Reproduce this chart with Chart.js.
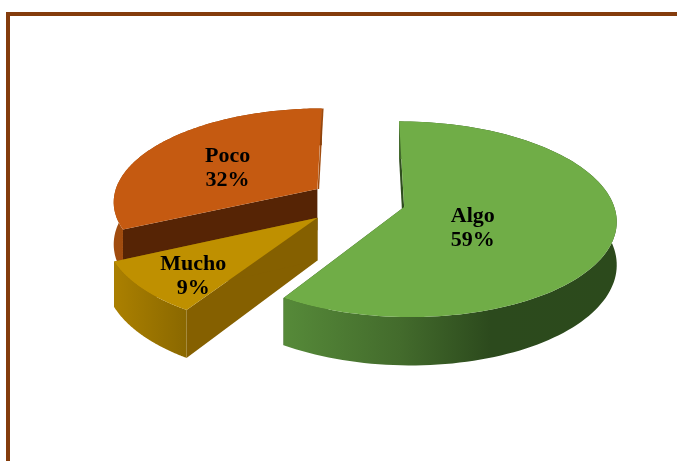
<!DOCTYPE html>
<html>
<head>
<meta charset="utf-8">
<script src="https://cdn.jsdelivr.net/npm/chart.js@4"></script>
<style>
  html, body { margin: 0; padding: 0; background: #fff; overflow: hidden; }
  #wrap { position: relative; width: 677px; height: 461px; }
  #frame { position: absolute; left: 6px; top: 12px; right: 0; bottom: 0; border-top: 4px solid #843C0C; border-left: 4px solid #843C0C; }
  canvas { position: absolute; left: 0; top: 0; }
</style>
</head>
<body>
<div id="wrap">
  <div id="frame"></div>
  <canvas id="chart" width="677" height="461"></canvas>
</div>
<script>
const categories = ['Algo', 'Mucho', 'Poco'];
const percents = [59, 9, 32];

const topColors = ['#70AD47', '#BF9000', '#C55A11'];
const cutColors = ['#2F4D1E', '#856000', '#562405'];
const wallStops = [
  [[0, '#568A39'], [0.35, '#436B2C'], [0.62, '#2C4A1D'], [1, '#2C4A1C']],
  [[0, '#AB8000'], [1, '#8A6800']],
  [[0, '#A14C0E'], [1, '#8A410C']]
];
const explode = [135, 157, 145];
const sliceRadius = [0.993, 0.98, 0.975];
const labelRadius = [0.375, 0.76, 0.51];
const labelTurn = [18, -5, -5];

// fake 3D view, fitted to the picture
const view = { cx: 359, cy: 201, f: 210, k: 95.5, p: 0.125, depth: 42 };

function project(el, angle, r, h) {
  const d = (el.options.offset / 4) / el.outerRadius;
  const mid = (el.startAngle + el.endAngle) / 2;
  const X = r * Math.cos(angle) + d * Math.cos(mid);
  const Y = -(r * Math.sin(angle) + d * Math.sin(mid));
  const s = 1 / (1 + view.p * Y);
  return { x: view.cx + view.f * X * s, y: view.cy - view.k * Y * s + h * s };
}

function poly(ctx, pts, fill) {
  ctx.beginPath();
  pts.forEach((p, i) => i ? ctx.lineTo(p.x, p.y) : ctx.moveTo(p.x, p.y));
  ctx.closePath();
  ctx.fillStyle = fill;
  ctx.fill();
}

function arcPoints(el, r, h) {
  const pts = [];
  const n = 120;
  for (let i = 0; i <= n; i++) {
    pts.push(project(el, el.startAngle + (el.endAngle - el.startAngle) * i / n, r, h));
  }
  return pts;
}

function drawSlice(ctx, el, i) {
  const apexTop = project(el, 0, 0, 0);
  const apexBot = project(el, 0, 0, view.depth);
  const topArc = arcPoints(el, sliceRadius[i], 0);
  const botArc = arcPoints(el, sliceRadius[i], view.depth);
  const last = topArc.length - 1;

  // cut faces
  poly(ctx, [apexTop, topArc[0], botArc[0], apexBot], cutColors[i]);
  if (i === 2) {
    // Poco's right side barely shows, just an edge
    ctx.beginPath();
    ctx.moveTo(apexTop.x + 1, apexTop.y);
    ctx.lineTo(topArc[last].x + 1, topArc[last].y);
    ctx.strokeStyle = '#A14C0E';
    ctx.lineWidth = 1.5;
    ctx.stroke();
  } else {
    poly(ctx, [apexTop, topArc[last], botArc[last], apexBot], cutColors[i]);
  }

  // outer wall
  const xs = topArc.map(p => p.x);
  const grad = ctx.createLinearGradient(Math.min(...xs), 0, Math.max(...xs), 0);
  wallStops[i].forEach(s => grad.addColorStop(s[0], s[1]));
  poly(ctx, topArc.concat(botArc.slice().reverse()), grad);

  // top face
  poly(ctx, [apexTop].concat(topArc), topColors[i]);
}

const fakePie3d = {
  id: 'fakePie3d',
  beforeDatasetsDraw(chart) {
    const ctx = chart.ctx;
    const arcs = chart.getDatasetMeta(0).data;
    [2, 1, 0].forEach(i => drawSlice(ctx, arcs[i], i));

    ctx.save();
    ctx.fillStyle = '#000';
    ctx.font = 'bold 22px "Liberation Serif"';
    ctx.textAlign = 'center';
    ctx.textBaseline = 'middle';
    arcs.forEach((el, i) => {
      const mid = (el.startAngle + el.endAngle) / 2;
      const p = project(el, mid + labelTurn[i] * Math.PI / 180, labelRadius[i], 0);
      ctx.fillText(categories[i], p.x, p.y - 12);
      ctx.fillText(percents[i] + '%', p.x, p.y + 12);
    });
    ctx.restore();
    return false;
  }
};

new Chart(document.getElementById('chart'), {
  type: 'pie',
  data: {
    labels: categories,
    datasets: [{ data: percents, backgroundColor: topColors, borderWidth: 0, offset: explode }]
  },
  options: {
    responsive: false,
    animation: false,
    events: [],
    plugins: { legend: { display: false }, tooltip: { enabled: false } }
  },
  plugins: [fakePie3d]
});
</script>
</body>
</html>
